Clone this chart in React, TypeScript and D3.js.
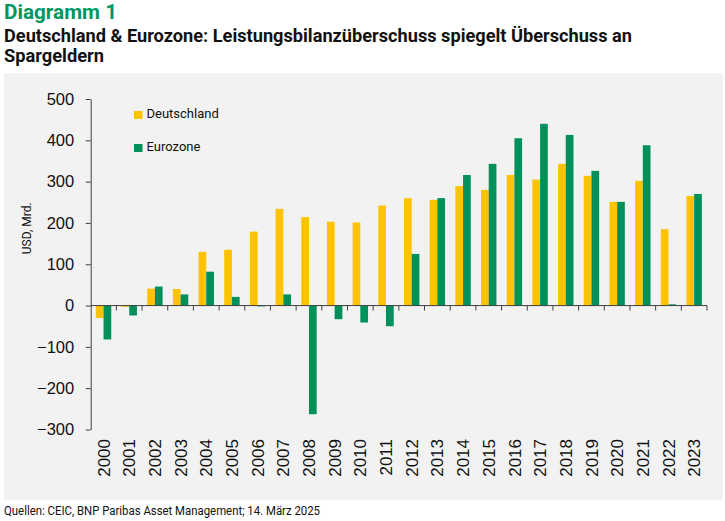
import { useEffect, useRef } from 'react';
import * as d3 from 'd3';

// Values (USD, Mrd.)
const years = [
  '2000', '2001', '2002', '2003', '2004', '2005', '2006', '2007', '2008', '2009', '2010', '2011',
  '2012', '2013', '2014', '2015', '2016', '2017', '2018', '2019', '2020', '2021', '2022', '2023'
];
const deutschland = [-30, -3, 41, 40, 130, 135, 179, 234, 214, 203, 201, 242, 260, 256, 289, 280, 316, 305, 343, 314, 251, 302, 185, 265];
const eurozone = [-82, -24, 46, 27, 82, 21, -2, 27, -263, -33, -41, -50, 125, 260, 316, 343, 405, 440, 413, 326, 251, 388, 3, 270];
const seriesNames = ['Deutschland', 'Eurozone'];
const yTicks = [-300, -200, -100, 0, 100, 200, 300, 400, 500];

const colors: Record<string, string> = {
  Deutschland: '#fdc300',
  Eurozone: '#00915a'
};

const width = 725;
const height = 521;
const labelFont = '"Liberation Sans", Arial, sans-serif';
const headFont = 'Roboto, "Noto Sans", sans-serif';

export default function App() {
  const svgRef = useRef<SVGSVGElement>(null);

  useEffect(() => {
    if (!svgRef.current) return;
    const root = d3.select(svgRef.current);
    root.selectAll('*').remove();

    // Panel background
    root.append('rect')
      .attr('x', 4)
      .attr('y', 73)
      .attr('width', 719)
      .attr('height', 427)
      .attr('fill', '#f2f2f2');

    // Titles
    root.append('text')
      .attr('x', 4)
      .attr('y', 18.5)
      .attr('font-family', headFont)
      .attr('font-weight', 700)
      .attr('font-size', 20)
      .attr('fill', '#00965e')
      .attr('textLength', 113)
      .attr('lengthAdjust', 'spacingAndGlyphs')
      .text('Diagramm 1');

    root.append('text')
      .attr('x', 4)
      .attr('y', 41.5)
      .attr('font-family', headFont)
      .attr('font-weight', 700)
      .attr('font-size', 18)
      .attr('fill', '#111')
      .attr('textLength', 628)
      .attr('lengthAdjust', 'spacingAndGlyphs')
      .text('Deutschland & Eurozone: Leistungsbilanzüberschuss spiegelt Überschuss an');

    root.append('text')
      .attr('x', 4)
      .attr('y', 61.5)
      .attr('font-family', headFont)
      .attr('font-weight', 700)
      .attr('font-size', 18)
      .attr('fill', '#111')
      .attr('textLength', 100)
      .attr('lengthAdjust', 'spacingAndGlyphs')
      .text('Spargeldern');

    // Scales
    const x = d3.scaleBand<string>()
      .domain(years)
      .range([90.7, 707])
      .paddingInner(0.4)
      .paddingOuter(0.2);

    const x1 = d3.scaleBand<string>()
      .domain(seriesNames)
      .range([0, x.bandwidth()]);

    const y = d3.scaleLinear()
      .domain([-300, 500])
      .range([429.5, 99]);

    const rows = years.map((yr, i) => ({
      year: yr,
      values: [
        { name: 'Deutschland', value: deutschland[i] },
        { name: 'Eurozone', value: eurozone[i] }
      ]
    }));

    // Bars
    const groups = root.append('g')
      .selectAll('g')
      .data(rows)
      .join('g')
      .attr('transform', d => `translate(${x(d.year)},0)`);

    groups.selectAll('rect')
      .data(d => d.values)
      .join('rect')
      .attr('x', d => x1(d.name) as number)
      .attr('width', x1.bandwidth())
      .attr('y', d => y(Math.max(0, d.value)))
      .attr('height', d => Math.abs(y(d.value) - y(0)))
      .attr('fill', d => colors[d.name]);

    // Y axis
    const yAxis = root.append('g')
      .attr('transform', `translate(${x.range()[0]},0)`)
      .call(d3.axisLeft(y).tickValues(yTicks).tickSize(5).tickSizeOuter(0).tickPadding(11.5));
    yAxis.select('.domain').attr('stroke', '#404040');
    yAxis.selectAll('.tick line').attr('stroke', '#404040');
    yAxis.selectAll('.tick text')
      .attr('font-family', labelFont)
      .attr('font-size', 16.5)
      .attr('fill', '#111');

    // X axis at zero, ticks on band boundaries
    const step = x.step();
    const x0 = x.range()[0];
    const xAxis = root.append('g');
    xAxis.append('line')
      .attr('x1', x0)
      .attr('x2', x.range()[1])
      .attr('y1', y(0))
      .attr('y2', y(0))
      .attr('stroke', '#404040');
    xAxis.selectAll('line.tick')
      .data(years)
      .join('line')
      .attr('class', 'tick')
      .attr('x1', (_, i) => x0 + step * (i + 1))
      .attr('x2', (_, i) => x0 + step * (i + 1))
      .attr('y1', y(0))
      .attr('y2', y(0) + 5)
      .attr('stroke', '#404040');

    // Year labels, rotated
    root.append('g')
      .selectAll('text')
      .data(years)
      .join('text')
      .attr('transform', d => `translate(${(x(d) as number) + x.bandwidth() / 2},439) rotate(-90)`)
      .attr('text-anchor', 'end')
      .attr('dy', '0.36em')
      .attr('font-family', labelFont)
      .attr('font-size', 17)
      .attr('fill', '#111')
      .text(d => d);

    // Y axis title
    root.append('text')
      .attr('transform', `translate(31,${(y(500) + y(-300)) / 2 - 36}) rotate(-90)`)
      .attr('text-anchor', 'middle')
      .attr('font-family', headFont)
      .attr('font-size', 12)
      .attr('fill', '#111')
      .text('USD, Mrd.');

    // Legend
    const legend = root.append('g')
      .selectAll('g')
      .data(seriesNames)
      .join('g')
      .attr('transform', (_, i) => `translate(134,${111 + i * 33})`);
    legend.append('rect')
      .attr('width', 8.5)
      .attr('height', 8)
      .attr('fill', d => colors[d]);
    legend.append('text')
      .attr('x', 12.5)
      .attr('y', 7)
      .attr('font-family', headFont)
      .attr('font-size', 13)
      .attr('fill', '#111')
      .text(d => d);

    // Source
    root.append('text')
      .attr('x', 4)
      .attr('y', 515)
      .attr('font-family', headFont)
      .attr('font-size', 12)
      .attr('fill', '#111')
      .attr('textLength', 316)
      .attr('lengthAdjust', 'spacingAndGlyphs')
      .text('Quellen: CEIC, BNP Paribas Asset Management; 14. März 2025');
  }, []);

  return (
    <svg
      ref={svgRef}
      width={width}
      height={height}
      style={{ position: 'absolute', left: 0, top: 0, background: '#fff' }}
    />
  );
}
